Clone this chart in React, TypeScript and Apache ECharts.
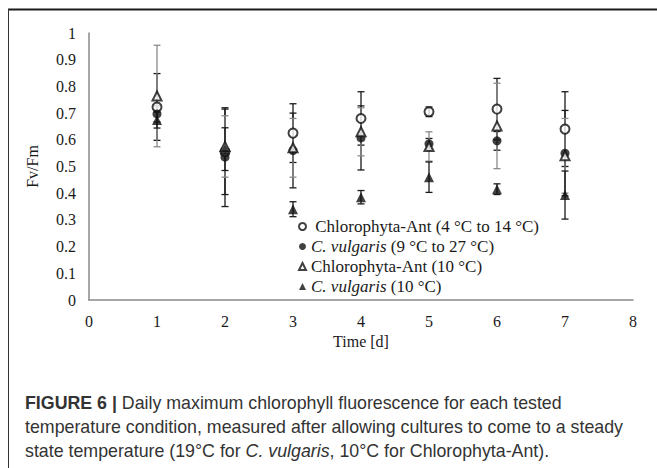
import React, { useEffect, useRef } from "react";
import * as echarts from "echarts";

const days = [1, 2, 3, 4, 5, 6, 7];
const antVarMean = [0.723, 0.555, 0.625, 0.68, 0.705, 0.715, 0.64];
const antVarErr = [0.125, 0.16, 0.11, 0.1, 0.018, 0.115, 0.14];
const vulVarMean = [0.697, 0.535, 0.56, 0.607, 0.585, 0.596, 0.55];
const vulVarErr = [0.03, 0.185, 0.14, 0.12, 0.02, 0.035, 0.16];
const ant10Mean = [0.764, 0.575, 0.57, 0.63, 0.575, 0.652, 0.54];
const ant10Err = [0.19, 0.115, 0.11, 0.09, 0.055, 0.16, 0.14];
const vul10Mean = [0.674, 0.565, 0.34, 0.385, 0.46, 0.415, 0.393];
const vul10Err = [0.03, 0.08, 0.028, 0.025, 0.057, 0.02, 0.09];

const seriesNames = [
  "Chlorophyta-Ant (4 °C to 14 °C)",
  "C. vulgaris (9 °C to 27 °C)",
  "Chlorophyta-Ant (10 °C)",
  "C. vulgaris (10 °C)",
];
const legendLabels = [
  " Chlorophyta-Ant (4 °C to 14 °C)",
  "{i|C. vulgaris} (9 °C to 27 °C)",
  "Chlorophyta-Ant (10 °C)",
  "{i|C. vulgaris} (10 °C)",
];
const yTickLabels = ["0", "0.1", "0.2", "0.3", "0.4", "0.5", "0.6", "0.7", "0.8", "0.9", "1"];
const xTickLabels = ["0", "1", "2", "3", "4", "5", "6", "7", "8"];

const captionBold = "FIGURE 6 |";
const captionLines = [
  " Daily maximum chlorophyll fluorescence for each tested",
  "temperature condition, measured after allowing cultures to come to a steady",
  "state temperature (19°C for ",
];

const SERIF = "'Liberation Serif', 'Times New Roman', serif";
const SANS = "'Liberation Sans', Arial, sans-serif";

function errData(means: number[], errs: number[]) {
  return days.map((d, i) => [d, means[i] - errs[i], means[i] + errs[i]]);
}

function errSeries(means: number[], errs: number[], color: string) {
  return {
    type: "custom",
    silent: true,
    z: 1,
    encode: { x: 0, y: [1, 2] },
    data: errData(means, errs),
    renderItem: (params: any, api: any) => {
      const x = api.value(0);
      const lo = api.value(1);
      const hi = api.value(2);
      const p1 = api.coord([x, hi]);
      const p2 = api.coord([x, lo]);
      const w = 3.5;
      const style = { stroke: color, lineWidth: 1.3 };
      return {
        type: "group",
        children: [
          { type: "line", shape: { x1: p1[0], y1: p1[1], x2: p2[0], y2: p2[1] }, style },
          { type: "line", shape: { x1: p1[0] - w, y1: p1[1], x2: p1[0] + w, y2: p1[1] }, style },
          { type: "line", shape: { x1: p2[0] - w, y1: p2[1], x2: p2[0] + w, y2: p2[1] }, style },
        ],
      };
    },
  };
}

function pts(means: number[]) {
  return days.map((d, i) => [d, means[i]]);
}

export default function App() {
  const ref = useRef<HTMLDivElement>(null);
  useEffect(() => {
    document.body.style.margin = "0";
    const chart = echarts.init(ref.current!, undefined, { renderer: "svg" });
    const symbols = ["emptyCircle", "circle", "emptyTriangle", "triangle"];
    const means = [antVarMean, vulVarMean, ant10Mean, vul10Mean];
    const sizes = [9, 9, 9, 10];
    chart.setOption({
      animation: false,
      backgroundColor: "#ffffff",
      grid: { left: 89, right: 24, top: 33, bottom: 168 },
      xAxis: {
        type: "value",
        min: 0,
        max: 8,
        interval: 1,
        name: "Time [d]",
        nameLocation: "middle",
        nameGap: 31,
        nameTextStyle: { fontFamily: SERIF, fontSize: 16, color: "#1a1a1a" },
        axisLine: { lineStyle: { color: "#8a8a8a", width: 1.5 } },
        axisTick: { show: false },
        splitLine: { show: false },
        axisLabel: {
          fontFamily: SERIF,
          fontSize: 16,
          color: "#1a1a1a",
          margin: 13,
          formatter: (v: number) => xTickLabels[Math.round(v)] ?? String(v),
        },
      },
      yAxis: {
        type: "value",
        min: 0,
        max: 1,
        interval: 0.1,
        name: "Fv/Fm",
        nameLocation: "middle",
        nameGap: 49,
        nameRotate: 90,
        nameTextStyle: { fontFamily: SERIF, fontSize: 16, color: "#1a1a1a" },
        axisLine: { show: true, lineStyle: { color: "#8a8a8a", width: 1.5 } },
        axisTick: { show: false },
        splitLine: { show: false },
        axisLabel: {
          fontFamily: SERIF,
          fontSize: 16,
          color: "#1a1a1a",
          margin: 13,
          formatter: (v: number) => yTickLabels[Math.round(v * 10)] ?? String(v),
        },
      },
      legend: {
        data: seriesNames,
        orient: "vertical",
        left: 298,
        top: 218,
        padding: 0,
        itemWidth: 7,
        itemHeight: 7,
        itemGap: 3,
        selectedMode: false,
        formatter: (name: string) => legendLabels[seriesNames.indexOf(name)],
        textStyle: {
          fontFamily: SERIF,
          fontSize: 17,
          color: "#1a1a1a",
          rich: { i: { fontFamily: SERIF, fontSize: 17, fontStyle: "italic", color: "#1a1a1a" } },
        },
      },
      graphic: [
        { type: "line", shape: { x1: 8, y1: 9.5, x2: 657, y2: 9.5 }, style: { stroke: "#1a1a1a", lineWidth: 2 } },
        { type: "line", shape: { x1: 8.5, y1: 9, x2: 8.5, y2: 468 }, style: { stroke: "#333333", lineWidth: 1 } },
        {
          type: "text",
          left: 25,
          top: 394,
          style: {
            text: "{b|" + captionBold + "}" + captionLines[0],
            font: `17.8px ${SANS}`,
            fill: "#333333",
            rich: { b: { fontWeight: "bold", fontFamily: SANS, fontSize: 17.8, fill: "#333333" } },
          },
        },
        {
          type: "text",
          left: 25,
          top: 418,
          style: { text: captionLines[1], font: `17.8px ${SANS}`, fill: "#333333" },
        },
        {
          type: "text",
          left: 25,
          top: 442,
          style: {
            text: captionLines[2] + "{i|C. vulgaris}, 10°C for Chlorophyta-Ant).",
            font: `17.8px ${SANS}`,
            fill: "#333333",
            rich: { i: { fontStyle: "italic", fontFamily: SANS, fontSize: 17.8, fill: "#333333" } },
          },
        },
      ],
      series: [
        errSeries(antVarMean, antVarErr, "#1a1a1a"),
        errSeries(vulVarMean, vulVarErr, "#1a1a1a"),
        errSeries(ant10Mean, ant10Err, "#8a8a8a"),
        errSeries(vul10Mean, vul10Err, "#1a1a1a"),
        ...seriesNames.map((n, k) => ({
          name: n,
          type: "scatter",
          z: 3,
          symbol: symbols[k],
          symbolSize: sizes[k],
          itemStyle: { color: "#111111", borderWidth: 1.1 },
          data: pts(means[k]),
        })),
      ],
    });
    return () => chart.dispose();
  }, []);
  return <div ref={ref} style={{ width: 657, height: 468, position: "absolute", left: 0, top: 0 }} />;
}
